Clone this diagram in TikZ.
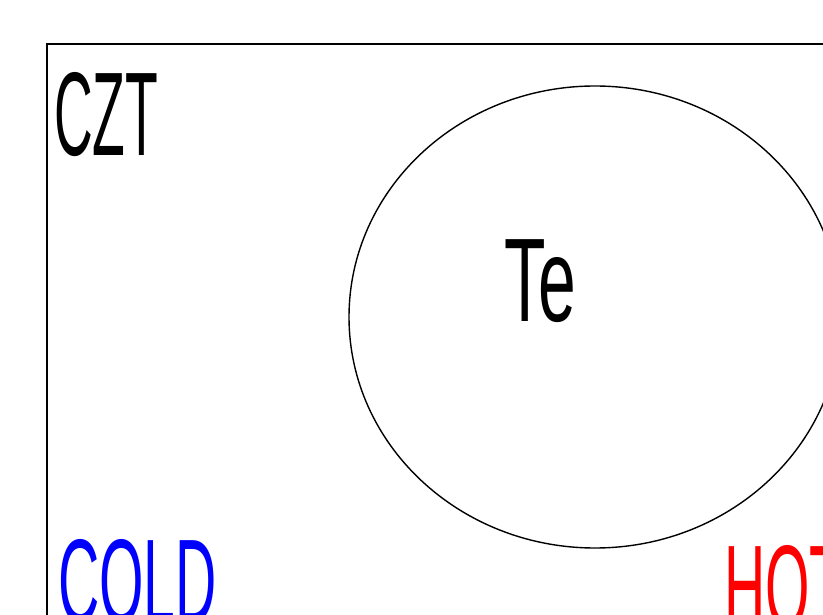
\documentclass[tikz,border=0pt]{standalone}
\usepackage{graphicx}
\usepackage{fontspec}
\setmainfont{Liberation Sans}
\usetikzlibrary{shapes.geometric}
\newcommand{\nar}[2][0.44]{\scalebox{#1}[1]{#2}}
\tikzset{
  lbl/.style={inner sep=0pt, anchor=base west, font=\fontsize{119}{119}\selectfont},
}
\begin{document}
\begin{tikzpicture}[x=1pt,y=1pt]
\useasboundingbox (0,0) rectangle (823,614);
\clip (0,0) rectangle (823,614);
\fill[white] (0,0) rectangle (823,614);
\draw[line width=2.2pt] (47,-50) |- (900,570) coordinate (frame);
\node[draw, ellipse, line width=1.4pt, minimum width=492pt, minimum height=462pt, inner sep=0pt] (te) at (595,297) {};
\node[lbl] (czt) at (54,458) {\nar[0.45]{CZT}};
\node[lbl] (tel) at (504,292) {\nar[0.57]{Te}};
\node[lbl, text=blue] (cold) at (58,-9) {\nar[0.48]{COLD}};
\node[lbl, text=red] (hot) at (724,-14) {\nar[0.48]{HOT}};
\end{tikzpicture}
\end{document}
